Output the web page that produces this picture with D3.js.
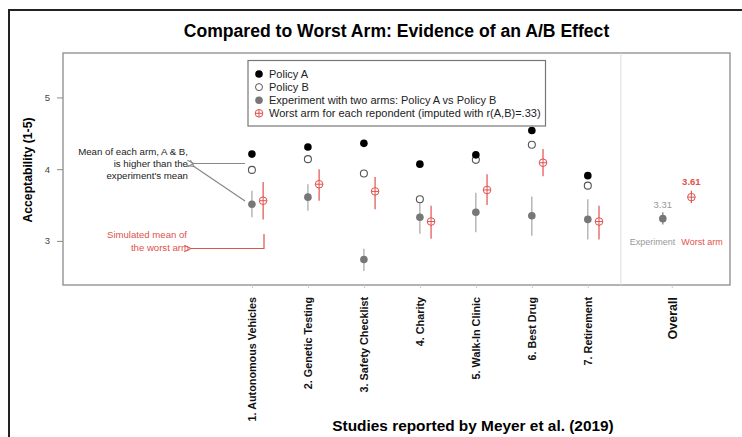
<!DOCTYPE html>
<html>
<head>
<meta charset="utf-8">
<script src="https://d3js.org/d3.v7.min.js"></script>
<style>
body { margin: 0; background: #fff; }
text { font-family: "Liberation Sans", Arial, sans-serif; }
</style>
</head>
<body>
<svg id="chart" width="742" height="437"></svg>
<script>
// study labels and values
var studies = ["1. Autonomous Vehicles", "2. Genetic Testing", "3. Safety Checklist", "4. Charity",
	"5. Walk-In Clinic", "6. Best Drug", "7. Retirement"];
var policyA = [4.21, 4.31, 4.36, 4.07, 4.20, 4.54, 3.91];
var policyB = [3.99, 4.14, 3.94, 3.58, 4.13, 4.34, 3.77];
var expMean = [3.51, 3.61, 2.74, 3.33, 3.40, 3.35, 3.30];
var expLo   = [3.33, 3.42, 2.58, 3.10, 3.12, 3.07, 3.02];
var expHi   = [3.70, 3.79, 2.89, 3.54, 3.67, 3.62, 3.58];
var worstMean = [3.56, 3.79, 3.69, 3.27, 3.71, 4.09, 3.27];
var worstLo   = [3.30, 3.56, 3.44, 3.03, 3.50, 3.90, 3.02];
var worstHi   = [3.82, 4.00, 3.89, 3.49, 3.93, 4.28, 3.49];
var overallExp = [3.31, 3.23, 3.40];   // mean, lo, hi
var overallWorst = [3.61, 3.53, 3.70];
var yTicks = [3, 4, 5];
var legendLabels = ["Policy A", "Policy B", "Experiment with two arms: Policy A vs Policy B",
	"Worst arm for each repondent (imputed with r(A,B)=.33)"];

var red = "#e0524c", grey = "#777", lightGrey = "#a5a5a5";
var R = 3.8;

var svg = d3.select("#chart");

var x = d3.scaleLinear().domain([-2.375, 9.54]).range([63, 730]);
var y = d3.scaleLinear().domain([2.385, 5.62]).range([285, 53]);

// outer frame (left + top only)
svg.append("path").attr("d", "M9,437V10H742")
	.attr("fill", "none").attr("stroke", "#222").attr("stroke-width", 2);

svg.append("text").attr("x", 396.5).attr("y", 37).attr("text-anchor", "middle")
	.style("font-size", "17.6px").style("font-weight", "bold").text("Compared to Worst Arm: Evidence of an A/B Effect");

// plot box and separator
svg.append("rect").attr("x", 63).attr("y", 53).attr("width", 667).attr("height", 232)
	.attr("fill", "none").attr("stroke", "#8a8a8a").attr("stroke-width", 1.3);
svg.append("line").attr("x1", x(7.59)).attr("x2", x(7.59)).attr("y1", 53).attr("y2", 285)
	.attr("stroke", "#ddd");

// y axis
var yAxis = svg.append("g").attr("transform", "translate(63,0)")
	.call(d3.axisLeft(y).tickValues(yTicks).tickSize(6).tickPadding(7).tickFormat(d3.format("d")));
yAxis.select(".domain").remove();
yAxis.selectAll("line").attr("stroke", "#888");
yAxis.selectAll("text").style("font-size", "9.5px").attr("fill", "#444");

svg.append("text").attr("transform", "translate(32,170) rotate(-90)").attr("text-anchor", "middle")
	.style("font-size", "12.2px").style("font-weight", "bold").text("Acceptability (1-5)");

// x axis
var cats = studies.concat(["Overall"]);
var pos = studies.map(function(d, i) { return i + 1; }).concat([8.5]);
var xAxis = svg.append("g").attr("transform", "translate(0,285)")
	.call(d3.axisBottom(x).tickValues(pos).tickSize(3).tickFormat(function(d, i) { return cats[i]; }));
xAxis.select(".domain").remove();
xAxis.selectAll("line").attr("stroke", "#ccc");
xAxis.selectAll("text")
	.attr("transform", "rotate(-90)")
	.attr("x", -12).attr("y", 0).attr("dy", "0.35em")
	.attr("text-anchor", "end")
	.style("font-size", function(d, i) { return i == 7 ? "12.5px" : "10.8px"; })
	.style("font-weight", "bold").attr("fill", "#111");

svg.append("text").attr("x", 473).attr("y", 431).attr("text-anchor", "middle")
	.style("font-size", "15.4px").style("font-weight", "bold").text("Studies reported by Meyer et al. (2019)");

// error bars
var idx = d3.range(studies.length);
svg.selectAll(".expbar").data(idx).enter().append("line")
	.attr("x1", function(i) { return x(i + 1); }).attr("x2", function(i) { return x(i + 1); })
	.attr("y1", function(i) { return y(expLo[i]); }).attr("y2", function(i) { return y(expHi[i]); })
	.attr("stroke", lightGrey).attr("stroke-width", 1.2);
svg.selectAll(".worstbar").data(idx).enter().append("line")
	.attr("x1", function(i) { return x(i + 1.2); }).attr("x2", function(i) { return x(i + 1.2); })
	.attr("y1", function(i) { return y(worstLo[i]); }).attr("y2", function(i) { return y(worstHi[i]); })
	.attr("stroke", red).attr("stroke-width", 1.2);

function crossCircle(g, cx, cy) {
	g.append("circle").attr("cx", cx).attr("cy", cy).attr("r", R)
		.attr("fill", "#fff").attr("stroke", red).attr("stroke-width", 1);
	g.append("path").attr("d", "M" + (cx - R) + "," + cy + "H" + (cx + R) + "M" + cx + "," + (cy - R) + "V" + (cy + R))
		.attr("stroke", red).attr("stroke-width", 1);
}

var pts = svg.append("g");
idx.forEach(function(i) {
	pts.append("circle").attr("cx", x(i + 1)).attr("cy", y(expMean[i])).attr("r", R).attr("fill", grey);
	pts.append("circle").attr("cx", x(i + 1)).attr("cy", y(policyB[i])).attr("r", R - 0.3)
		.attr("fill", "#fff").attr("stroke", "#555").attr("stroke-width", 1.1);
	pts.append("circle").attr("cx", x(i + 1)).attr("cy", y(policyA[i])).attr("r", R).attr("fill", "#000");
	crossCircle(pts, x(i + 1.2), y(worstMean[i]));
});

// overall
var xe = x(8.34), xw = x(8.85);
pts.append("line").attr("x1", xe).attr("x2", xe).attr("y1", y(overallExp[1])).attr("y2", y(overallExp[2]))
	.attr("stroke", grey).attr("stroke-width", 1.2);
pts.append("circle").attr("cx", xe).attr("cy", y(overallExp[0])).attr("r", R).attr("fill", grey);
pts.append("line").attr("x1", xw).attr("x2", xw).attr("y1", y(overallWorst[1])).attr("y2", y(overallWorst[2]))
	.attr("stroke", red).attr("stroke-width", 1.2);
crossCircle(pts, xw, y(overallWorst[0]));
svg.append("text").attr("x", xe).attr("y", y(overallExp[0]) - 11).attr("text-anchor", "middle")
	.style("font-size", "9.5px").attr("fill", "#999").text(overallExp[0].toFixed(2));
svg.append("text").attr("x", xw).attr("y", y(overallWorst[0]) - 12).attr("text-anchor", "middle")
	.style("font-size", "9.5px").style("font-weight", "bold").attr("fill", red).text(overallWorst[0].toFixed(2));
svg.append("text").attr("x", 652.5).attr("y", 245).attr("text-anchor", "middle")
	.style("font-size", "9px").attr("fill", "#999").text("Experiment");
svg.append("text").attr("x", 702).attr("y", 245).attr("text-anchor", "middle")
	.style("font-size", "9px").attr("fill", red).text("Worst arm");

// legend
var lg = svg.append("g");
lg.append("rect").attr("x", 248).attr("y", 60.5).attr("width", 297.5).attr("height", 65.5)
	.attr("fill", "#fff").attr("stroke", "#777").attr("stroke-width", 1.2);
legendLabels.forEach(function(t, i) {
	var ly = 74 + i * 13.1;
	if (i == 0) lg.append("circle").attr("cx", 259).attr("cy", ly).attr("r", R).attr("fill", "#000");
	if (i == 1) lg.append("circle").attr("cx", 259).attr("cy", ly).attr("r", R - 0.3).attr("fill", "#fff").attr("stroke", "#555");
	if (i == 2) lg.append("circle").attr("cx", 259).attr("cy", ly).attr("r", R).attr("fill", grey);
	if (i == 3) crossCircle(lg, 259, ly);
	lg.append("text").attr("x", 269).attr("y", ly).attr("dy", "0.35em")
		.style("font-size", "11px").attr("fill", "#222").text(t);
});

// annotations
svg.append("defs").selectAll("marker").data([["agrey", "#888"], ["ared", red]]).enter()
	.append("marker").attr("id", function(d) { return d[0]; })
	.attr("viewBox", "0 0 10 10").attr("refX", 1).attr("refY", 5)
	.attr("markerWidth", 7).attr("markerHeight", 7).attr("orient", "auto-start-reverse")
	.append("path").attr("d", "M9,1L1,5L9,9").attr("fill", "none").attr("stroke", function(d) { return d[1]; }).attr("stroke-width", 1.3);

var note1 = ["Mean of each arm, A & B,", "is higher than the", "experiment's mean"];
svg.selectAll(".note1").data(note1).enter().append("text")
	.attr("x", 188).attr("y", function(d, i) { return 155 + i * 12; })
	.attr("text-anchor", "end").style("font-size", "9.7px").attr("fill", "#222").text(function(d) { return d; });
svg.append("line").attr("x1", 245).attr("y1", 163.5).attr("x2", 194).attr("y2", 163.5)
	.attr("stroke", "#888").attr("stroke-width", 1.2).attr("marker-end", "url(#agrey)");
svg.append("line").attr("x1", 245).attr("y1", 201).attr("x2", 194).attr("y2", 166.5)
	.attr("stroke", "#888").attr("stroke-width", 1.2).attr("marker-end", "url(#agrey)");

var note2 = ["Simulated mean of", "the worst arm"];
svg.selectAll(".note2").data(note2).enter().append("text")
	.attr("x", function(d, i) { return i == 0 ? 187 : 189; }).attr("y", function(d, i) { return 238 + i * 13; })
	.attr("text-anchor", "end").style("font-size", "9.6px").attr("fill", red).text(function(d) { return d; });
svg.append("path").attr("d", "M264,234V248.5H191").attr("fill", "none")
	.attr("stroke", red).attr("stroke-width", 1.2).attr("marker-end", "url(#ared)");
</script>
</body>
</html>
